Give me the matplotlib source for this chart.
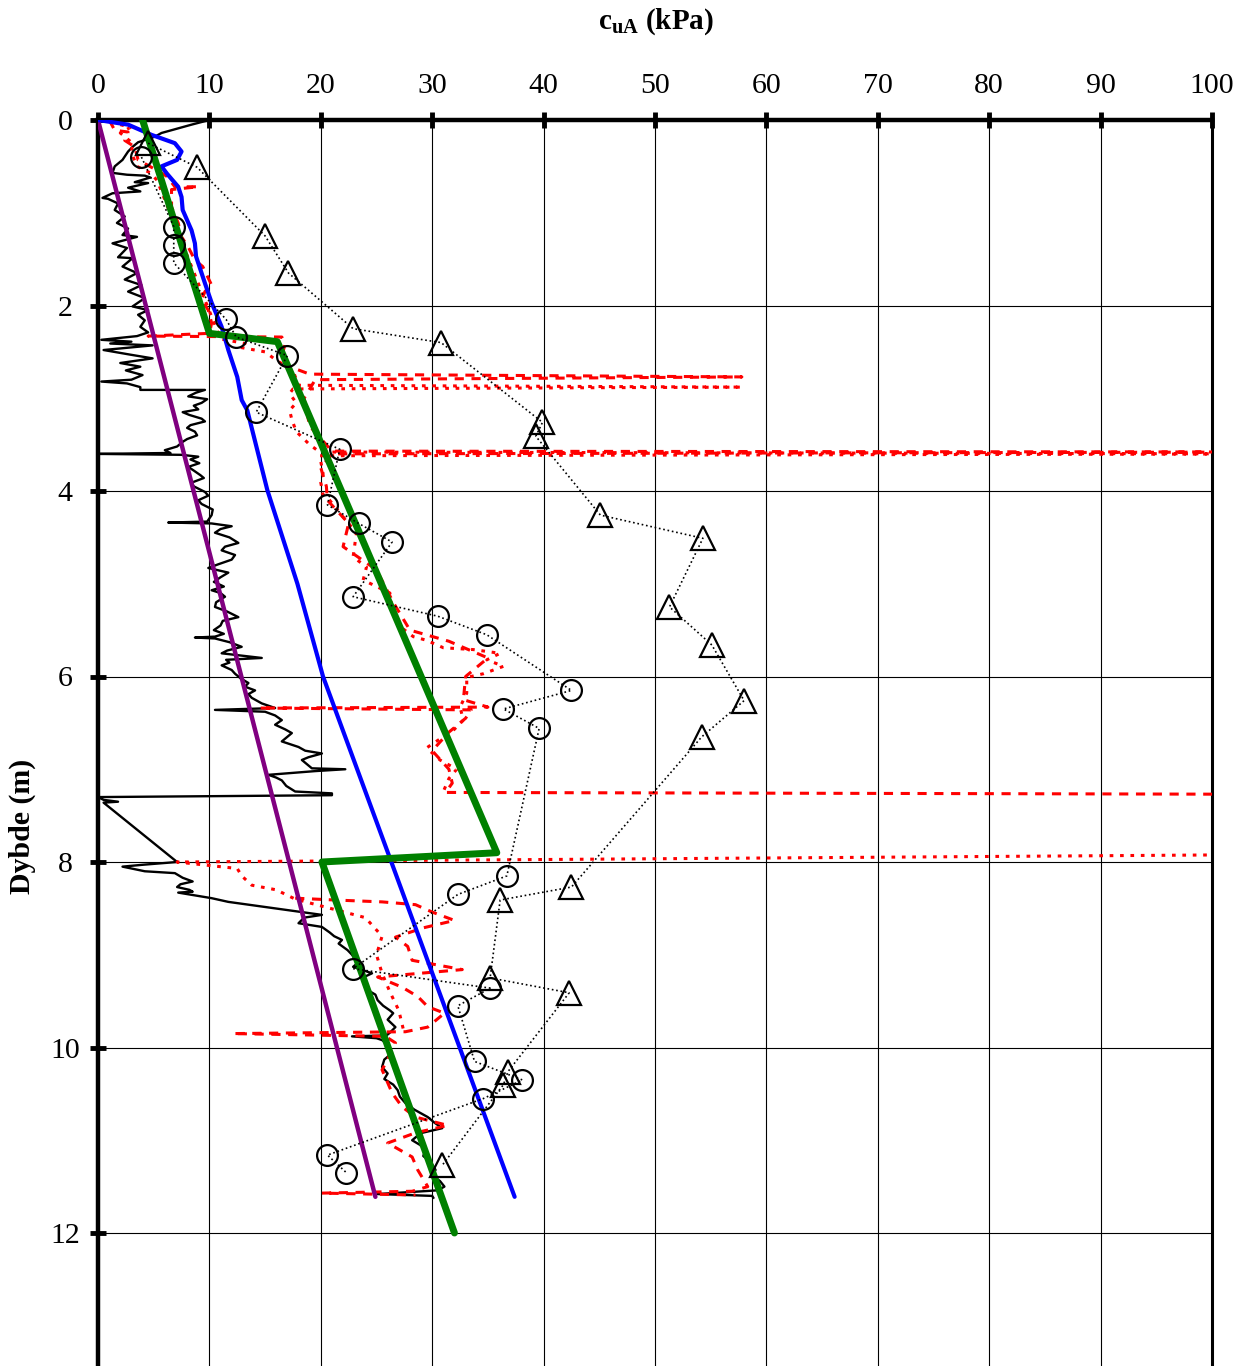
import matplotlib
matplotlib.use("Agg")
import matplotlib.pyplot as plt

plt.rcParams['font.family'] = ['Liberation Serif', 'DejaVu Serif']
plt.rcParams['mathtext.fontset'] = 'custom'
plt.rcParams['mathtext.rm'] = 'Liberation Serif'
plt.rcParams['mathtext.bf'] = 'Liberation Serif:bold'

# ---- profile data: depth (m) and undrained shear strength c_uA (kPa) ----
cpt_depth = [0.00, 0.05, 0.09, 0.14, 0.18, 0.24, 0.29, 0.34, 0.43, 0.50, 0.57, 0.59, 0.60, 0.62, 0.67,
             0.68, 0.73, 0.77, 0.79, 0.84, 0.85, 0.90, 0.97, 1.04, 1.11, 1.17, 1.24, 1.26, 1.33, 1.38,
             1.48, 1.49, 1.58, 1.65, 1.72, 1.78, 1.85, 1.92, 2.01, 2.05, 2.10, 2.16, 2.23, 2.29, 2.33,
             2.37, 2.39, 2.41, 2.43, 2.48, 2.53, 2.57, 2.62, 2.66, 2.70, 2.75, 2.80, 2.82, 2.84, 2.88,
             2.91, 2.91, 2.94, 2.98, 3.01, 3.05, 3.08, 3.12, 3.15, 3.18, 3.22, 3.25, 3.29, 3.32, 3.36,
             3.40, 3.44, 3.47, 3.52, 3.56, 3.59, 3.60, 3.61, 3.63, 3.66, 3.70, 3.74, 3.78, 3.83, 3.86,
             3.91, 3.95, 4.01, 4.05, 4.10, 4.14, 4.20, 4.26, 4.33, 4.34, 4.35, 4.38, 4.41, 4.45, 4.50,
             4.56, 4.60, 4.64, 4.69, 4.74, 4.79, 4.83, 4.88, 4.93, 4.98, 5.03, 5.07, 5.10, 5.14, 5.20,
             5.25, 5.30, 5.36, 5.40, 5.45, 5.50, 5.54, 5.57, 5.58, 5.59, 5.63, 5.68, 5.72, 5.75, 5.80,
             5.82, 5.85, 5.88, 5.93, 5.97, 6.02, 6.07, 6.11, 6.15, 6.19, 6.23, 6.29, 6.34, 6.36, 6.38,
             6.42, 6.47, 6.52, 6.57, 6.61, 6.66, 6.70, 6.76, 6.80, 6.83, 6.87, 6.90, 6.95, 6.99, 7.00,
             7.02, 7.06, 7.09, 7.12, 7.18, 7.24, 7.26, 7.28, 7.30, 7.33, 7.35, 7.36, 8.00, 8.03, 8.05,
             8.10, 8.12, 8.17, 8.21, 8.24, 8.27, 8.30, 8.32, 8.33, 8.39, 8.43, 8.50, 8.57, 8.60, 8.66,
             8.70, 8.76, 8.80, 8.84, 8.88, 8.95, 9.00, 9.09, 9.13, 9.20, 9.25, 9.30, 9.38, 9.43, 9.49,
             9.55, 9.60, 9.63, 9.70, 9.78, 9.84, 9.87, 9.88, 9.90, 9.92, 9.98, 10.06, 10.13, 10.21, 10.28,
             10.34, 10.40, 10.46, 10.53, 10.60, 10.67, 10.75, 10.81, 10.87, 10.92, 10.96, 11.00, 11.05, 11.10, 11.17,
             11.24, 11.32, 11.38, 11.44, 11.50, 11.54, 11.58, 11.60, 11.62]
cpt_cu = [10.0, 8.4, 7.2, 5.7, 5.1, 3.6, 3.1, 2.7, 2.2, 1.5, 1.3, 2.6, 4.2, 4.7, 3.3,
          4.5, 2.7, 3.8, 1.3, 0.4, 0.9, 1.8, 1.5, 2.4, 1.7, 2.7, 2.2, 3.5, 1.3, 2.6,
          1.8, 3.1, 2.2, 3.5, 2.4, 3.9, 2.7, 4.2, 3.1, 4.5, 3.6, 4.2, 3.8, 4.5, 3.5,
          0.3, 3.0, 1.1, 4.9, 0.5, 2.9, 4.9, 2.0, 3.8, 2.5, 4.0, 3.0, 0.3, 2.6, 3.8,
          3.8, 9.6, 8.8, 8.1, 9.8, 9.3, 8.6, 9.0, 7.6, 8.2, 9.3, 9.6, 8.3, 8.0, 8.7,
          8.9, 8.0, 7.6, 7.1, 6.0, 6.5, 0.0, 7.5, 9.0, 8.3, 9.1, 8.1, 8.6, 9.2, 9.5,
          8.4, 8.6, 9.6, 9.9, 9.0, 9.3, 10.3, 10.2, 9.8, 6.3, 10.2, 12.0, 11.0, 10.5, 11.8,
          12.6, 11.4, 11.1, 12.3, 12.0, 10.8, 9.9, 11.7, 11.0, 10.4, 11.3, 10.2, 11.0, 11.4, 10.6,
          10.5, 11.6, 12.6, 11.2, 11.0, 10.4, 11.3, 10.5, 8.7, 10.5, 11.8, 12.9, 11.6, 11.1, 14.7,
          11.5, 11.8, 11.1, 12.0, 12.3, 12.8, 13.5, 13.2, 14.1, 13.5, 13.8, 14.7, 15.9, 10.5, 15.0,
          15.9, 16.5, 15.9, 16.8, 17.4, 16.9, 16.5, 18.0, 18.6, 20.1, 18.9, 18.3, 18.8, 19.2, 22.2,
          19.5, 15.3, 16.0, 16.5, 16.9, 17.7, 21.0, 21.0, 0.0, 0.5, 1.8, 0.5, 7.1, 4.0, 2.2,
          4.2, 6.9, 7.6, 8.5, 7.4, 7.1, 8.2, 8.5, 7.2, 10.2, 11.7, 15.9, 20.1, 18.5, 18.0,
          20.1, 20.8, 21.2, 21.9, 21.6, 22.4, 22.8, 23.3, 22.9, 24.6, 23.7, 24.0, 24.2, 24.9, 25.1,
          25.6, 26.2, 26.5, 26.0, 26.7, 26.2, 25.9, 22.8, 25.0, 25.5, 26.1, 26.4, 25.7, 25.5, 26.0,
          25.7, 26.5, 26.9, 27.1, 27.6, 28.4, 29.6, 30.2, 30.9, 29.1, 28.6, 28.2, 28.9, 29.4, 29.2,
          29.9, 30.3, 30.0, 30.7, 31.1, 30.5, 25.1, 30.0, 30.1]

# red trace 1 (dashed), upper part
red1a_depth = [0.00, 0.11, 0.13, 0.22, 0.29, 0.43, 0.49, 0.57, 0.61, 0.72, 0.72, 0.75, 0.94, 1.11, 1.26,
               1.37, 1.51, 1.58, 1.78, 1.85, 1.94, 2.05, 2.19, 2.30, 2.33, 2.34, 2.41, 2.55, 2.66, 2.74,
               2.77, 2.80, 3.00, 3.30, 3.57, 3.58, 3.60, 3.75, 3.95, 4.10, 4.35, 4.60, 4.85, 5.20, 5.50,
               5.62, 5.80, 6.00, 6.25, 6.33, 6.34, 6.36, 6.45, 6.60, 6.80, 7.00, 7.15, 7.25, 7.27]
red1a_cu = [1.0, 1.5, 2.7, 2.4, 3.3, 3.6, 4.5, 5.7, 6.2, 6.9, 9.0, 6.6, 6.6, 7.2, 7.5,
            8.1, 8.7, 9.4, 10.2, 9.6, 9.3, 9.9, 10.2, 10.0, 4.5, 16.5, 16.8, 16.5, 17.2, 19.0,
            57.8, 19.5, 18.5, 19.0, 21.0, 105.0, 21.0, 20.0, 20.5, 20.6, 22.5, 22.0, 25.0, 26.5, 28.0,
            31.5, 35.0, 33.0, 32.8, 35.0, 14.5, 33.5, 33.0, 31.5, 30.0, 31.5, 31.8, 31.2, 105.0]

# red trace 1 (dashed), lower part
red1b_depth = [8.39, 8.41, 8.43, 8.46, 8.54, 8.63, 8.71, 8.81, 8.91, 9.06, 9.16, 9.24, 9.35,
               9.45, 9.56, 9.63, 9.78, 9.83, 9.85, 9.88, 9.95, 10.13, 10.24, 10.49, 10.64, 10.75, 10.84, 10.92,
               11.03, 11.18, 11.32, 11.50, 11.55, 11.57, 11.59]
red1b_cu = [17.7, 21.3, 25.5, 28.5, 30.0, 32.0, 29.2, 26.7, 27.8, 28.2, 32.7, 25.1, 27.3,
            28.7, 29.6, 31.1, 29.6, 27.6, 12.1, 25.8, 26.7, 26.0, 25.5, 26.4, 27.3, 28.5, 31.4, 28.5,
            26.0, 28.2, 28.7, 29.6, 28.2, 20.1, 28.5]

# red trace 2 (dotted), upper part
red2a_depth = [0.02, 0.08, 0.14, 0.25, 0.35, 0.50, 0.57, 0.65, 2.36, 2.41, 2.45, 2.50, 2.59, 2.70, 2.86,
               2.88, 2.90, 2.95, 3.05, 3.13, 3.23, 3.36, 3.50, 3.58, 3.60, 3.62, 3.81, 3.91, 4.04, 4.10,
               4.28, 4.45, 4.71, 4.82, 4.96, 5.10, 5.28, 5.46, 5.57, 5.61, 5.69, 5.71, 5.75, 5.82, 5.89,
               5.97, 6.01, 6.18, 6.33, 6.47, 6.58, 6.72, 6.77, 6.90, 7.00, 7.10, 7.24]
red2a_cu = [1.1, 2.9, 2.0, 3.1, 3.0, 3.5, 4.7, 5.3, 11.0, 13.2, 12.7, 15.0, 16.0, 17.5, 18.0,
            57.8, 17.5, 17.2, 17.8, 17.2, 17.4, 17.8, 19.0, 19.9, 105.0, 19.9, 20.2, 20.0, 20.2, 20.8,
            22.0, 23.2, 22.9, 24.1, 23.8, 26.2, 26.4, 27.1, 28.3, 29.5, 31.0, 33.7, 36.1, 34.9, 36.4,
            34.6, 33.1, 33.1, 32.5, 32.8, 31.9, 30.1, 29.5, 30.7, 32.2, 31.5, 31.0]

# red trace 2 (dotted), lower part
red2b_depth = [7.92, 8.00, 8.07, 8.15, 8.25, 8.30, 8.40, 8.60, 8.80, 9.00, 9.20, 9.40, 9.60, 9.85]
red2b_cu = [105.0, 7.1, 12.5, 12.9, 13.8, 16.0, 17.7, 24.0, 25.5, 25.0, 25.5, 26.2, 27.0, 27.5]

circ_depth = [0.40, 1.15, 1.35, 1.54, 2.15, 2.34, 2.54, 3.15, 3.55, 4.15, 4.35, 4.55, 5.14, 5.35,
              5.55, 6.15, 6.35, 6.56, 8.15, 8.35, 9.15, 9.36, 9.55, 10.15, 10.35, 10.55, 11.16, 11.35]
circ_cu = [3.9, 6.8, 6.8, 6.8, 11.5, 12.4, 17.0, 14.2, 21.7, 20.6, 23.4, 26.4, 22.9, 30.5,
           34.9, 42.5, 36.4, 39.6, 36.7, 32.3, 22.9, 35.2, 32.3, 33.8, 38.1, 34.6, 20.6, 22.3]

tri_depth = [0.25, 0.51, 1.25, 1.65, 2.25, 2.40, 3.26, 3.41, 4.26, 4.51, 5.25, 5.66, 6.26, 6.65,
             8.27, 8.41, 9.25, 9.41, 10.26, 10.40, 11.27]
tri_cu = [4.5, 8.9, 15.0, 17.1, 22.9, 30.8, 39.9, 39.3, 45.1, 54.3, 51.3, 55.1, 58.0, 54.2,
          42.5, 36.1, 35.2, 42.3, 36.8, 36.4, 30.9]

blue_depth = [0.00, 0.05, 0.16, 0.25, 0.34, 0.43, 0.50, 0.58, 0.72, 0.83, 0.97, 1.19, 1.33, 1.47,
              1.76, 1.97, 2.23, 2.48, 2.77, 3.02, 3.13, 3.99, 5.00, 6.00, 11.61]
blue_cu = [0.0, 2.7, 4.8, 6.9, 7.5, 7.1, 5.7, 6.2, 7.2, 7.5, 7.6, 8.4, 8.7, 8.8,
           9.6, 10.2, 11.1, 11.7, 12.5, 12.9, 13.4, 15.2, 17.9, 20.2, 37.4]

green_depth = [0.0, 2.30, 2.39, 7.90, 8.00, 12.0]
green_cu = [4.0, 10.0, 16.1, 35.8, 20.1, 32.0]

purple_depth = [0.0, 11.61]
purple_cu = [0.0, 24.9]

x_ticks = [0, 10, 20, 30, 40, 50, 60, 70, 80, 90, 100]
y_ticks = [0, 2, 4, 6, 8, 10, 12]

# ---- figure ----
W, H = 1237, 1366
fig = plt.figure(figsize=(W / 100, H / 100), dpi=100)
ax_left, ax_right, ax_top = 98, 1212, 120
px_per_m = 92.75
y_max = 14.0
ax_bottom = ax_top + y_max * px_per_m
ax = fig.add_axes([ax_left / W, 1 - ax_bottom / H, (ax_right - ax_left) / W, (ax_bottom - ax_top) / H])

ax.set_xlim(0, 100)
ax.set_ylim(y_max, 0)

ax.plot(cpt_cu, cpt_depth, color='black', lw=1.7, zorder=3)
red_dash = (0, (3, 2.5))
red_dot = (0, (1.2, 2.2))
ax.plot(red1a_cu, red1a_depth, color='red', lw=2.2, linestyle=red_dash, zorder=4)
ax.plot(red1b_cu, red1b_depth, color='red', lw=2.2, linestyle=red_dash, zorder=4)
ax.plot(red2a_cu, red2a_depth, color='red', lw=2.2, linestyle=red_dot, zorder=4)
ax.plot(red2b_cu, red2b_depth, color='red', lw=2.2, linestyle=red_dot, zorder=4)
ax.plot(purple_cu, purple_depth, color='#800080', lw=3.2, zorder=5, solid_capstyle='round')
ax.plot(blue_cu, blue_depth, color='#0000FF', lw=3.0, zorder=5, solid_capstyle='round')
ax.plot(green_cu, green_depth, color='#008000', lw=5.0, zorder=6, solid_capstyle='round')
ax.plot(circ_cu, circ_depth, color='black', lw=1.2, linestyle=':', marker='o', ms=15,
        mfc='none', mec='black', mew=1.6, zorder=7)
ax.plot(tri_cu, tri_depth, color='black', lw=1.2, linestyle=':', marker='^', ms=17,
        mfc='none', mec='black', mew=1.6, zorder=7)

ax.set_xticks(x_ticks)
ax.set_yticks(y_ticks)
ax.grid(True, color='black', lw=0.8)
ax.set_axisbelow(True)
ax.xaxis.tick_top()
ax.tick_params(axis='both', direction='inout', length=12, width=3.5, labelsize=21.5, color='black')
ax.tick_params(axis='x', pad=9.4)
ax.tick_params(axis='y', pad=17.8)
for lbl in ax.get_yticklabels():
    lbl.set_horizontalalignment('center')
for side in ['top', 'left']:
    ax.spines[side].set_linewidth(3.2)
ax.spines['right'].set_linewidth(2.2)
ax.spines['bottom'].set_visible(False)

fig.text(656 / W, 1 - 22 / H, r'$\mathbf{c_{uA}}$ (kPa)', ha='center', va='center',
         fontsize=21, fontweight='bold')
fig.text(22 / W, 1 - 826 / H, 'Dybde (m)', ha='center', va='center', rotation=90,
         fontsize=21.5, fontweight='bold')

fig.savefig('out.png', dpi=100)
